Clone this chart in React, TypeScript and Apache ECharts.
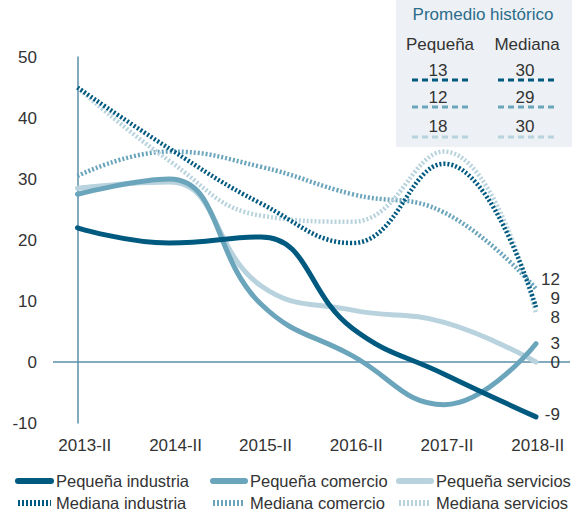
import React, { useEffect, useRef } from "react";
import * as echarts from "echarts";

const categories = ["2013-II", "2014-II", "2015-II", "2016-II", "2017-II", "2018-II"];
const labelPositions = [0.08, 1.07, 2.05, 3.04, 4.03, 5.02];

const pequenaIndustria = [22, 19.5, 20.5, 5.5, -2, -9];
const pequenaComercio = [27.5, 30, 9.5, 1, -7, 3];
const pequenaServicios = [28.5, 29.5, 12.5, 8.5, 6.5, 0];
const medianaIndustria = [45, 35, 26, 19.5, 32.5, 9];
const medianaComercio = [30.5, 34.5, 32, 27.5, 24.5, 12];
const medianaServicios = [45, 33, 24, 23, 34.5, 8];

// label nudges: MC, MS, MI, PS, PC, PI
const endLabelShift = [-9, 4, -9, 0, 0, -2];

const promedioTitle = "Promedio histórico";
const promedioHeaders = ["Pequeña", "Mediana"];
const promedioPequena = [13, 12, 18];
const promedioMediana = [30, 29, 30];

const DARK = "#005a80";
const MEDIUM = "#6ba5bc";
const LIGHT = "#b8d3de";
const AXIS = "#5a8fa7";
const TEXT = "#333333";
const FONT = "'Liberation Sans', Arial, sans-serif";
const FS = 17;
const rowColors = [DARK, MEDIUM, LIGHT];

export default function App() {
  const ref = useRef<HTMLDivElement>(null);

  useEffect(() => {
    if (!ref.current) return;
    const chart = echarts.init(ref.current, null, { renderer: "svg" });

    const mk = (name: string, values: number[], color: string, dotted: boolean, idx: number, extra: any = {}) => ({
      name,
      type: "line",
      smooth: 0.45,
      symbol: "none",
      data: values.map((v, i) => [i, v]),
      lineStyle: {
        color,
        width: dotted ? 4.5 : 5,
        type: dotted ? [2, 2] : "solid",
        cap: dotted ? "butt" : "round",
      },
      itemStyle: { color },
      endLabel: {
        show: true,
        formatter: () => String(values[values.length - 1]),
        align: "right",
        verticalAlign: "middle",
        distance: 24,
        offset: [0, endLabelShift[idx]],
        color: TEXT,
        fontSize: FS,
        lineHeight: 15,
        fontFamily: FONT,
      },
      z: 3,
      ...extra,
    });

    const headerX = [440, 527];
    const rowY = [70, 97, 126];
    const dashY = [80, 107, 137];
    const txt = (text: string, x: number, y: number, fill = TEXT) => ({
      type: "text", x, y,
      style: { text, fill, fontSize: FS, fontFamily: FONT, align: "center", verticalAlign: "middle" },
    });
    const graphics: any[] = [
      { type: "rect", shape: { x: 396, y: 0, width: 176, height: 147 }, style: { fill: "#edf1f5" }, z: 0 },
      txt(promedioTitle, 483, 14, "#2b6c8a"),
    ];
    promedioHeaders.forEach((h, c) => graphics.push(txt(h, headerX[c], 44)));
    [promedioPequena, promedioMediana].forEach((arr, c) => {
      arr.forEach((v, r) => {
        graphics.push(txt(String(v), headerX[c] - 2, rowY[r]));
        const x1 = c === 0 ? 412 : 498;
        graphics.push({
          type: "line",
          shape: { x1, y1: dashY[r], x2: x1 + 60, y2: dashY[r] },
          style: { stroke: rowColors[r], lineWidth: 3, lineDash: [6, 4] },
        });
      });
    });

    const legendItem = (name: string, left: number, top: number, itemWidth: number) => ({
      left,
      top,
      itemWidth,
      itemHeight: 14,
      itemGap: 0,
      data: [name],
      itemStyle: { opacity: 0 },
      lineStyle: { width: 6 },
      textStyle: { fontSize: 16.5, fontFamily: FONT, color: TEXT, lineHeight: 20 },
      padding: 0,
    });

    chart.setOption({
      animation: false,
      backgroundColor: "#ffffff",
      grid: { left: 53, right: 6, top: 57, bottom: 96, containLabel: false },
      xAxis: {
        type: "value",
        min: -0.267,
        max: 5.371,
        axisLine: { show: false },
        axisTick: { show: false },
        splitLine: { show: false },
        axisLabel: {
          customValues: labelPositions,
          formatter: (v: number) => categories[Math.round(v)] ?? "",
          fontSize: FS,
          fontFamily: FONT,
          color: TEXT,
          margin: 14,
        },
      },
      yAxis: {
        type: "value",
        min: -10,
        max: 50,
        interval: 10,
        axisLine: { show: true, lineStyle: { color: AXIS, width: 1.5 } },
        axisTick: { show: false },
        splitLine: { show: false },
        axisLabel: { fontSize: FS, fontFamily: FONT, color: TEXT, margin: 16 },
      },
      legend: [
        legendItem("Pequeña industria", 15, 471, 33),
        legendItem("Mediana industria", 15, 493, 33),
        legendItem("Pequeña comercio", 210, 471, 32),
        legendItem("Mediana comercio", 210, 493, 32),
        legendItem("Pequeña servicios", 396, 471, 32),
        legendItem("Mediana servicios", 396, 493, 32),
      ],
      graphic: graphics,
      series: [
        mk("Mediana comercio", medianaComercio, MEDIUM, true, 0, {
          markLine: {
            silent: true,
            symbol: "none",
            data: [{ yAxis: 0 }],
            lineStyle: { color: AXIS, width: 1.5, type: "solid" },
            label: { show: false },
            z: 1,
          },
        }),
        mk("Mediana servicios", medianaServicios, LIGHT, true, 1),
        mk("Mediana industria", medianaIndustria, DARK, true, 2),
        mk("Pequeña servicios", pequenaServicios, LIGHT, false, 3),
        mk("Pequeña comercio", pequenaComercio, MEDIUM, false, 4),
        mk("Pequeña industria", pequenaIndustria, DARK, false, 5),
      ],
    });

    return () => chart.dispose();
  }, []);

  return (
    <div
      ref={ref}
      style={{ position: "absolute", left: 0, top: 0, width: 576, height: 519 }}
    />
  );
}
